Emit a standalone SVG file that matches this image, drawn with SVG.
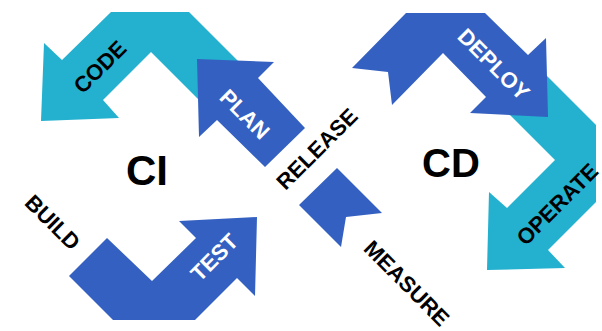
<svg xmlns="http://www.w3.org/2000/svg" width="602" height="331" viewBox="0 0 602 331">
<style>
.cy{fill:#23B1CF}
.bl{fill:#3461C1}
.lb{font-family:"Liberation Sans",Arial,sans-serif;font-weight:bold;font-size:22px;text-anchor:middle}
.k{fill:#000}
.w{fill:#fff}
.big{font-family:"Liberation Sans",Arial,sans-serif;font-weight:bold;text-anchor:middle;fill:#000}
</style>
<rect width="602" height="331" fill="#fff"/>
<g id="connectors">
<polygon id="code-arrow" class="cy" points="111,12 189,12 245,68 207,108 151,52 103,100 119,118 41,121 44,43 62,60"/>
<polygon id="operate-arrow" class="cy" points="538,67 596,125 596,202 548,250 565,268 487,270 489,192 507,208 555,160 500,105"/>
<polygon id="plan-arrow" class="bl" points="197,59 274,62 258,78 305,128 265,167 217,120 199,137"/>
<polygon id="deploy-arrow" class="bl" points="406,13 485,13 528,55 546,38 548,117 470,113 486,97 443,53 392,105 388,72 352,68"/>
<polygon id="test-arrow" class="bl" points="107,238 152,281 196,238 179,221 257,217 255,296 237,278 195,320 113,320 69,276"/>
<polygon id="measure-arrow" class="bl" points="299,205 337,168 382,213 346,217 341,247"/>
</g>
<g id="node-code"><text class="lb k" transform="translate(100,67) rotate(-45)" y="7.5" font-size="21">CODE</text></g>
<g id="node-plan"><text class="lb w" transform="translate(245,114) rotate(45)" y="8">PLAN</text></g>
<g id="node-release"><text class="lb k" transform="translate(317,149) rotate(-45)" y="7.5" font-size="21">RELEASE</text></g>
<g id="node-deploy"><text class="lb w" transform="translate(494,64) rotate(45)" y="8">DEPLOY</text></g>
<g id="node-operate"><text class="lb k" transform="translate(557,204) rotate(-45)" y="8">OPERATE</text></g>
<g id="node-measure"><text class="lb k" transform="translate(407,283) rotate(45)" y="8">MEASURE</text></g>
<g id="node-build"><text class="lb k" transform="translate(53,222) rotate(45)" y="8">BUILD</text></g>
<g id="node-test"><text class="lb w" transform="translate(214,257) rotate(-45)" y="8">TEST</text></g>
<g id="node-ci"><text class="big" x="147" y="185" font-size="42">CI</text></g>
<g id="node-cd"><text class="big" x="451" y="177" font-size="40">CD</text></g>
</svg>
